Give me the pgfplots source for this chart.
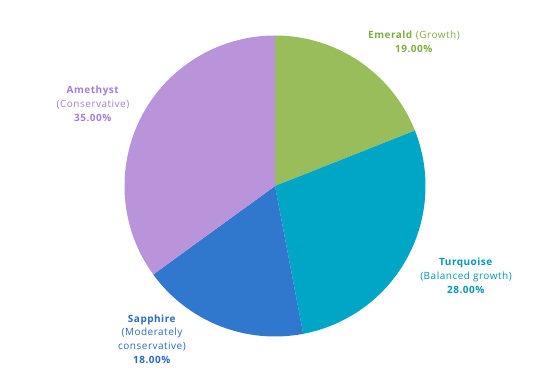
\documentclass[border=0pt]{standalone}
\usepackage{pgfplots}
\usepackage{pgfplotstable}
\pgfplotsset{compat=1.18}
\usepackage{fontspec}
\setmainfont{Open Sans}[LetterSpace=5]
\definecolor{emer}{HTML}{9ABD5C}
\definecolor{turq}{HTML}{00A6C6}
\definecolor{sapp}{HTML}{2F78CD}
\definecolor{amet}{HTML}{B994DA}
\definecolor{emerT}{HTML}{7DAE3E}
\definecolor{turqT}{HTML}{0096B5}
\definecolor{sappT}{HTML}{2A6AC4}
\definecolor{ametT}{HTML}{A57ED0}
\pgfplotstableread{
label pct
Emerald 19
Turquoise 28
Sapphire 18
Amethyst 35
}\piedata
\begin{document}
\begin{tikzpicture}
\begin{axis}[scale only axis, width=551pt, height=374pt,
  xmin=0, xmax=551, ymin=0, ymax=374, hide axis, clip=false]
\pgfplotstablegetelem{0}{pct}\of\piedata \let\pa\pgfplotsretval
\pgfplotstablegetelem{1}{pct}\of\piedata \let\pb\pgfplotsretval
\pgfplotstablegetelem{2}{pct}\of\piedata \let\pc\pgfplotsretval
\pgfplotstablegetelem{3}{pct}\of\piedata \let\pd\pgfplotsretval
\pgfmathsetmacro{\aA}{90}
\pgfmathsetmacro{\aB}{\aA-3.6*\pa}
\pgfmathsetmacro{\aC}{\aB-3.6*\pb}
\pgfmathsetmacro{\aD}{\aC-3.6*\pc}
\pgfmathsetmacro{\aE}{\aD-3.6*\pd}
\def\R{150.5pt}
\fill[emer] (axis cs:275,188) -- ++(\aA:\R) arc[start angle=\aA, end angle=\aB, radius=\R] -- cycle;
\fill[turq] (axis cs:275,188) -- ++(\aB:\R) arc[start angle=\aB, end angle=\aC, radius=\R] -- cycle;
\fill[sapp] (axis cs:275,188) -- ++(\aC:\R) arc[start angle=\aC, end angle=\aD, radius=\R] -- cycle;
\fill[amet] (axis cs:275,188) -- ++(\aD:\R) arc[start angle=\aD, end angle=\aE, radius=\R] -- cycle;
\tikzset{lab/.style={align=center, font=\fontsize{10}{13.8}\selectfont, inner sep=0pt}}
\node[lab, text=emerT] at (axis cs:414,332) {\textbf{Emerald} (Growth)\\\textbf{19.00\%}};
\node[lab, text=turqT] at (axis cs:466,98) {\textbf{Turquoise}\\(Balanced growth)\\\textbf{28.00\%}};
\node[lab, text=sappT] at (axis cs:152,35) {\textbf{Sapphire}\\(Moderately\\conservative)\\\textbf{18.00\%}};
\node[lab, text=ametT] at (axis cs:93,270) {\textbf{Amethyst}\\(Conservative)\\\textbf{35.00\%}};
\end{axis}
\pgfresetboundingbox
\path (current axis.south west) rectangle (current axis.north east);
\end{tikzpicture}
\end{document}
